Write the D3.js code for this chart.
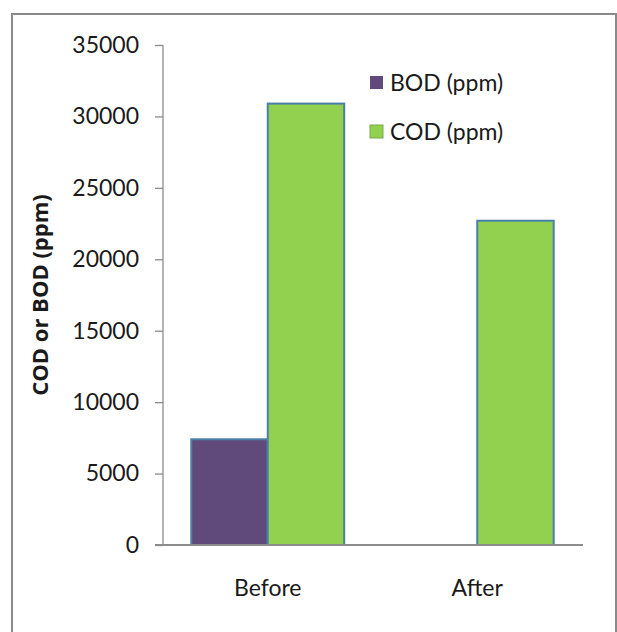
<!DOCTYPE html>
<meta charset="utf-8">
<script src="https://d3js.org/d3.v7.min.js"></script>
<style>
    body { margin: 0; background: white; }
    .tick text, .lbl { font-family: Lato, "Open Sans", sans-serif; fill: #1a1a1a; }
</style>
<body>
<div id="chart"></div>
<script>
    const categories = ["Before", "After"];
    const series = ["BOD (ppm)", "COD (ppm)"];
    const bodValues = [7400, 0];
    const codValues = [30900, 22700];
    const yTicks = [0, 5000, 10000, 15000, 20000, 25000, 30000, 35000];
    const colors = ["#604a7b", "#92d050"];

    const width = 617, height = 632;
    const svg = d3.select("#chart").append("svg")
        .attr("width", width)
        .attr("height", height);

    // outer frame
    svg.append("rect")
        .attr("x", 12).attr("y", 14)
        .attr("width", 604).attr("height", 640)
        .attr("fill", "none")
        .attr("stroke", "#8a8a8a")
        .attr("stroke-width", 2);

    const x0 = d3.scaleBand().domain(categories).range([163, 582]);
    const x1 = d3.scaleBand().domain(series).range([0, x0.bandwidth()]).paddingOuter(0.37);
    const y = d3.scaleLinear().domain([0, 35000]).range([545, 45]);

    const rows = categories.map((c, i) => ({cat: c, vals: [bodValues[i], codValues[i]]}));

    // y axis
    const yAxis = svg.append("g")
        .attr("transform", "translate(163,0)")
        .call(d3.axisLeft(y).tickValues(yTicks).tickSize(8).tickPadding(16).tickFormat(d3.format("d")));
    yAxis.selectAll("path, line").attr("stroke", "#8c8c8c").attr("stroke-width", 1.3);
    yAxis.select(".domain").attr("d", "M0,45V545");
    yAxis.selectAll("text").style("font-size", "23px");

    // bars
    const groups = svg.selectAll(".grp").data(rows).join("g")
        .attr("class", "grp")
        .attr("transform", d => `translate(${x0(d.cat)},0)`);
    groups.selectAll("rect")
        .data(d => d.vals.map((v, i) => ({s: series[i], v: v, i: i})).filter(d => d.v > 0))
        .join("rect")
        .attr("x", d => x1(d.s))
        .attr("y", d => y(d.v))
        .attr("width", x1.bandwidth())
        .attr("height", d => y(0) - y(d.v))
        .attr("fill", d => colors[d.i])
        .attr("stroke", "#4a7fa8")
        .attr("stroke-width", 2);

    // x axis
    const xAxis = svg.append("g")
        .attr("transform", "translate(0,545)")
        .call(d3.axisBottom(x0).tickSize(0).tickPadding(35));
    xAxis.select(".domain").attr("stroke", "#8c8c8c").attr("stroke-width", 2).attr("d", "M155,0H583");
    xAxis.selectAll("text").style("font-size", "23px");

    // y title
    svg.append("text")
        .attr("transform", "translate(40,295) rotate(-90)")
        .attr("text-anchor", "middle")
        .attr("dy", "0.35em")
        .style("font-family", "'Open Sans', sans-serif")
        .style("font-size", "22px")
        .style("font-weight", "bold")
        .style("fill", "#1a1a1a")
        .text("COD or BOD (ppm)");

    // legend
    const legend = svg.append("g").attr("transform", "translate(370,0)");
    const legY = [83, 132];
    series.forEach((s, i) => {
        legend.append("rect")
            .attr("x", 0).attr("y", legY[i] - 7)
            .attr("width", 13).attr("height", 13)
            .attr("fill", colors[i])
            .attr("stroke", i === 1 ? "#7aa84a" : "none");
        legend.append("text")
            .attr("class", "lbl")
            .attr("x", 20).attr("y", legY[i])
            .attr("dy", "0.35em")
            .style("font-size", "23px")
            .text(s);
    });
</script>
</body>
